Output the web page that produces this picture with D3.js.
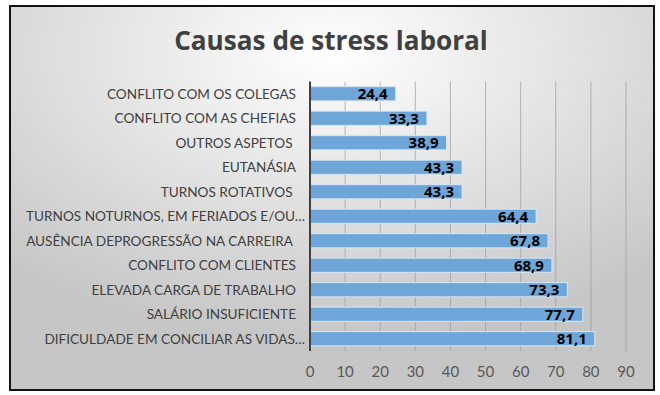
<!DOCTYPE html>
<html>
<head>
<meta charset="utf-8">
<script src="https://cdn.jsdelivr.net/npm/d3@7/dist/d3.min.js"></script>
<style>
  html, body { margin: 0; padding: 0; background: #fff; }
  svg text { white-space: pre; }
</style>
</head>
<body>
<div id="chart"></div>
<script>
"use strict";

// == DATA ==
var title = "Causas de stress laboral";
var categories = [
  "CONFLITO COM OS COLEGAS",
  "CONFLITO COM AS CHEFIAS",
  "OUTROS ASPETOS ",
  "EUTANÁSIA",
  "TURNOS ROTATIVOS ",
  "TURNOS NOTURNOS, EM FERIADOS E/OU…",
  "AUSÊNCIA DEPROGRESSÃO NA CARREIRA ",
  "CONFLITO COM CLIENTES",
  "ELEVADA CARGA DE TRABALHO",
  "SALÁRIO INSUFICIENTE",
  "DIFICULDADE EM CONCILIAR AS VIDAS…"
];
var values = [24.4, 33.3, 38.9, 43.3, 43.3, 64.4, 67.8, 68.9, 73.3, 77.7, 81.1];
var xTicks = [0, 10, 20, 30, 40, 50, 60, 70, 80, 90];

var width = 660, height = 395;

var svg = d3.select("#chart").append("svg")
  .attr("width", width)
  .attr("height", height);

// background gradient
var defs = svg.append("defs");
var grad = defs.append("radialGradient")
  .attr("id", "bg")
  .attr("cx", "50%").attr("cy", "12%").attr("r", "75%");
grad.append("stop").attr("offset", "0%").attr("stop-color", "#ffffff");
grad.append("stop").attr("offset", "100%").attr("stop-color", "#c6c6c6");

svg.append("rect")
  .attr("x", 10).attr("y", 6)
  .attr("width", 644).attr("height", 384)
  .attr("fill", "url(#bg)")
  .attr("stroke", "#111")
  .attr("stroke-width", 2);

// == SCALES ==
var x = d3.scaleLinear().domain([0, 90]).range([310, 626]);
var y = d3.scaleBand().domain(categories).range([81.5, 351]).paddingInner(0.42).paddingOuter(0.21);

// gridlines
svg.append("g").selectAll("line")
  .data(xTicks.slice(1))
  .enter().append("line")
  .attr("x1", function(d){ return x(d); })
  .attr("x2", function(d){ return x(d); })
  .attr("y1", 81.5).attr("y2", 351)
  .attr("stroke", "#9a9a9a")
  .attr("stroke-opacity", 0.7)
  .attr("stroke-width", 1);

// x tick labels
svg.append("g").selectAll("text")
  .data(xTicks)
  .enter().append("text")
  .attr("x", function(d){ return x(d); })
  .attr("y", 377)
  .attr("text-anchor", "middle")
  .attr("font-family", "Lato, 'Open Sans', sans-serif")
  .attr("font-size", 15)
  .attr("fill", "#595959")
  .text(function(d){ return d; });

// bars
svg.append("g").selectAll("rect")
  .data(values)
  .enter().append("rect")
  .attr("x", x(0))
  .attr("y", function(d, i){ return y(categories[i]); })
  .attr("width", function(d){ return x(d) - x(0); })
  .attr("height", y.bandwidth())
  .attr("fill", "#6fa6d9")
  .attr("stroke", "#d9e7f4")
  .attr("stroke-width", 1);

// value labels
svg.append("g").selectAll("text")
  .data(values)
  .enter().append("text")
  .attr("x", function(d){ return x(d) - 8; })
  .attr("y", function(d, i){ return y(categories[i]) + y.bandwidth() / 2; })
  .attr("dy", "0.36em")
  .attr("text-anchor", "end")
  .attr("font-family", "'Open Sans', sans-serif")
  .attr("font-weight", "bold")
  .attr("font-size", 15)
  .attr("fill", "#000")
  .text(function(d){ return d3.format(".1f")(d).replace(".", ","); });

// axis line
svg.append("line")
  .attr("x1", x(0)).attr("x2", x(0))
  .attr("y1", 81.5).attr("y2", 351)
  .attr("stroke", "#404040")
  .attr("stroke-width", 2);

// category labels
svg.append("g").selectAll("text")
  .data(categories)
  .enter().append("text")
  .attr("x", function(d){ return d.slice(-1) === "…" ? 305 : 296; })
  .attr("y", function(d){ return y(d) + y.bandwidth() / 2; })
  .attr("dy", "0.36em")
  .attr("text-anchor", "end")
  .attr("font-family", "Lato, 'Open Sans', sans-serif")
  .attr("font-size", 13.6)
  .attr("fill", "#404040")
  .text(function(d){ return d; });

// title, sized to the width it takes in the original
var t = svg.append("text")
  .attr("x", 331)
  .attr("y", 50)
  .attr("text-anchor", "middle")
  .attr("font-family", "'Open Sans', sans-serif")
  .attr("font-weight", "bold")
  .attr("font-size", 25)
  .attr("fill", "#404040")
  .text(title);
var tw = t.node().getComputedTextLength();
t.attr("font-size", 25 * 314 / tw);
</script>
</body>
</html>
